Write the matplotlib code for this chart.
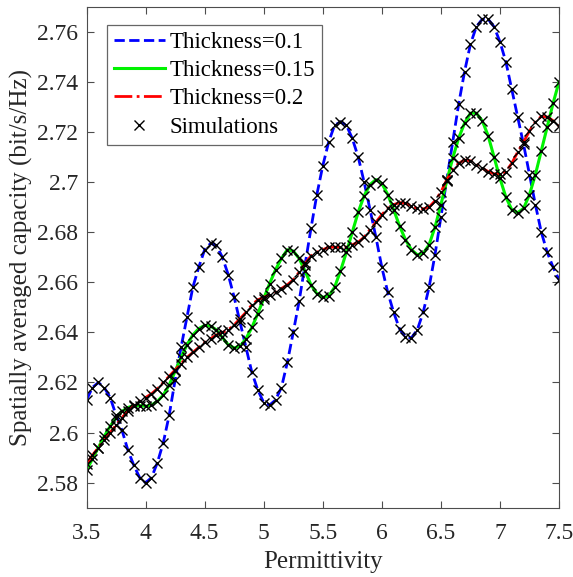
import numpy as np
import matplotlib
matplotlib.use("Agg")
import matplotlib.pyplot as plt

plt.rcParams['font.family'] = ['Liberation Serif', 'DejaVu Serif']

# permittivity grid (simulation points every 0.05)
permittivity = np.linspace(3.5, 7.5, 81)

# thickness = 0.1
cap_t01 = [2.613, 2.618, 2.620, 2.618, 2.614, 2.607, 2.601, 2.593, 2.587, 2.582,
           2.580, 2.582, 2.588, 2.596, 2.607, 2.621, 2.634, 2.646, 2.658, 2.666,
           2.673, 2.6755, 2.6747, 2.670, 2.663, 2.654, 2.644, 2.634, 2.624, 2.617,
           2.612, 2.611, 2.613, 2.618, 2.628, 2.640, 2.6525, 2.667, 2.6815, 2.695,
           2.7065, 2.716, 2.7227, 2.724, 2.7227, 2.7174, 2.710, 2.700, 2.689, 2.678,
           2.666, 2.656, 2.648, 2.6414, 2.6382, 2.6378, 2.641, 2.648, 2.658, 2.671,
           2.686, 2.701, 2.716, 2.731, 2.744, 2.755, 2.762, 2.765, 2.765, 2.762,
           2.756, 2.748, 2.737, 2.726, 2.715, 2.703, 2.691, 2.680, 2.672, 2.666,
           2.661]

# thickness = 0.15
cap_t015 = [2.585, 2.5895, 2.594, 2.5985, 2.6025, 2.606, 2.6085, 2.610, 2.6108, 2.6108,
            2.6105, 2.611, 2.6125, 2.615, 2.619, 2.6245, 2.630, 2.635, 2.639, 2.6415,
            2.6428, 2.6425, 2.641, 2.638, 2.635, 2.6338, 2.6345, 2.6375, 2.642, 2.6475,
            2.6535, 2.6595, 2.665, 2.6695, 2.673, 2.6725, 2.6695, 2.6645, 2.659, 2.6555,
            2.654, 2.6545, 2.658, 2.6645, 2.672, 2.680, 2.688, 2.6945, 2.699, 2.701,
            2.6995, 2.695, 2.689, 2.6825, 2.677, 2.673, 2.671, 2.6715, 2.675, 2.682,
            2.691, 2.7005, 2.7095, 2.7175, 2.7235, 2.7275, 2.7275, 2.7245, 2.7185, 2.710,
            2.7015, 2.694, 2.689, 2.6878, 2.6895, 2.695, 2.703, 2.7125, 2.722, 2.7315,
            2.740]

# thickness = 0.2
cap_t02 = [2.5875, 2.591, 2.594, 2.597, 2.600, 2.603, 2.606, 2.6085, 2.611, 2.6125,
           2.614, 2.6155, 2.6175, 2.620, 2.6225, 2.625, 2.6275, 2.630, 2.632, 2.634,
           2.636, 2.6375, 2.639, 2.640, 2.641, 2.643, 2.6455, 2.648, 2.651, 2.653,
           2.654, 2.655, 2.656, 2.6575, 2.659, 2.661, 2.664, 2.6675, 2.6705, 2.672,
           2.673, 2.674, 2.674, 2.674, 2.674, 2.675, 2.676, 2.678, 2.681, 2.684,
           2.687, 2.6895, 2.691, 2.6918, 2.6915, 2.6905, 2.6895, 2.6893, 2.690, 2.6925,
           2.696, 2.701, 2.705, 2.7075, 2.7088, 2.7085, 2.7070, 2.7055, 2.7042, 2.7033,
           2.7032, 2.7042, 2.7075, 2.7120, 2.7160, 2.7204, 2.7240, 2.7262, 2.7260, 2.7245,
           2.7224]

xticks = [3.5, 4, 4.5, 5, 5.5, 6, 6.5, 7, 7.5]
xtick_labels = ['3.5', '4', '4.5', '5', '5.5', '6', '6.5', '7', '7.5']
yticks = [2.58, 2.6, 2.62, 2.64, 2.66, 2.68, 2.7, 2.72, 2.74, 2.76]
ytick_labels = ['2.58', '2.6', '2.62', '2.64', '2.66', '2.68', '2.7', '2.72', '2.74', '2.76']

fig = plt.figure(figsize=(5.73, 5.77), dpi=100)
ax = fig.add_axes([0.151, 0.12, 0.8246, 0.8684])

ax.plot(permittivity, cap_t01, '--', color=(0, 0, 1), lw=2, label='Thickness=0.1')
ax.plot(permittivity, cap_t015, '-', color=(0, 0.95, 0), lw=2.2, label='Thickness=0.15')
ax.plot(permittivity, cap_t02, '-.', color=(1, 0, 0), lw=2, label='Thickness=0.2')
ax.plot(permittivity, cap_t01, 'x', color='k', ms=6.5, mew=1.0, label='Simulations')
ax.plot(permittivity, cap_t015, 'x', color='k', ms=6.5, mew=1.0)
ax.plot(permittivity, cap_t02, 'x', color='k', ms=6.5, mew=1.0)

ax.set_xlim(3.5, 7.5)
ax.set_ylim(2.57, 2.77)
ax.set_xticks(xticks)
ax.set_xticklabels(xtick_labels)
ax.set_yticks(yticks)
ax.set_yticklabels(ytick_labels)
ax.tick_params(direction='in', top=True, right=True, length=5, width=0.8,
               color='0.3', labelsize=17, labelcolor='0.15')
ax.tick_params(axis='x', pad=11)
ax.tick_params(axis='y', pad=6)
for s in ax.spines.values():
    s.set_color('0.3')
    s.set_linewidth(0.8)

ax.set_xlabel('Permittivity', fontsize=18, color='0.15', labelpad=5)
ax.set_ylabel('Spatially averaged capacity (bit/s/Hz)', fontsize=18, color='0.15', labelpad=3)

leg = ax.legend(loc='upper left', bbox_to_anchor=(0.044, 0.964), fontsize=16.5,
                fancybox=False, edgecolor='0.4', framealpha=1, borderpad=0.3,
                labelspacing=0.32, handlelength=2.2, handletextpad=0.2, borderaxespad=0)
leg.get_frame().set_linewidth(0.9)

plt.savefig('out.png', dpi=100)
